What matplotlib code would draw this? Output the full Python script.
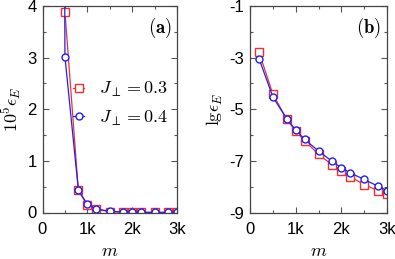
import numpy as np
import matplotlib
matplotlib.use("Agg")
import matplotlib.pyplot as plt
from matplotlib.ticker import MultipleLocator, FuncFormatter

plt.rcParams["mathtext.fontset"] = "cm"
plt.rcParams["font.family"] = ["Liberation Sans", "DejaVu Sans"]
plt.rcParams["axes.unicode_minus"] = False

m = [200, 500, 800, 1000, 1200, 1500, 1800, 2000, 2200, 2500, 2800, 3000]
# lg(epsilon_E)
lg_03 = [-2.8, -4.41, -5.37, -5.85, -6.22, -6.75, -7.15, -7.4, -7.62, -7.92, -8.15, -8.3]
lg_04 = [-3.05, -4.52, -5.36, -5.8, -6.17, -6.62, -7.02, -7.27, -7.47, -7.72, -7.98, -8.15]
labels = [r"$J_{\perp}=0.3$", r"$J_{\perp}=0.4$"]
yticks_b = [-9, -7, -5, -3, -1]

red = "#f03030"
blue = "#2020f0"

fig = plt.figure(figsize=(3.95, 2.59), dpi=100)
ax1 = fig.add_axes([42.5 / 395, 1 - 212.5 / 259, (177 - 42.5) / 395, (212.5 - 6) / 259])
ax2 = fig.add_axes([250 / 395, 1 - 212.5 / 259, (387 - 250) / 395, (212.5 - 6) / 259])

kfmt = FuncFormatter(lambda v, p: "0" if v == 0 else "%dk" % round(v / 1000))

series = [(lg_03, red, "s", 5.2), (lg_04, blue, "o", 5.0)]
for (lg, c, mk, ms), lab in zip(series, labels):
    lin = 10 ** (np.array(lg) + 5)
    ax1.plot(m, lin, color=c, lw=0.9, marker=mk, ms=ms, mfc="white",
             mec=c, mew=1.0, label=lab)
    ax2.plot(m, lg, color=c, lw=0.9, marker=mk, ms=ms, mfc="white",
             mec=c, mew=1.0)

ax1.set_xlim(0, 3000)
ax1.set_ylim(0, 4)
ax1.yaxis.set_major_locator(MultipleLocator(1))
ax1.yaxis.set_minor_locator(MultipleLocator(0.5))
ax1.set_ylabel(r"$10^5\epsilon_E$", fontsize=13, labelpad=3)
ax1.text(0.96, 0.95, r"$\mathbf{(a)}$", transform=ax1.transAxes,
         ha="right", va="top", fontsize=13.5)
ax1.legend(loc="upper left", bbox_to_anchor=(0.23, 0.64), frameon=False,
           fontsize=13, handlelength=0.6, handletextpad=0.8,
           labelspacing=0.5, borderaxespad=0.0, borderpad=0.0)

ax2.set_xlim(0, 3000)
ax2.set_ylim(-9, -1)
ax2.set_yticks(yticks_b)
ax2.yaxis.set_minor_locator(MultipleLocator(1))
ax2.set_ylabel(r"$\mathrm{lg}\epsilon_E$", fontsize=13, labelpad=3)
ax2.text(0.96, 0.95, r"$\mathbf{(b)}$", transform=ax2.transAxes,
         ha="right", va="top", fontsize=13.5)

for ax in (ax1, ax2):
    ax.xaxis.set_major_locator(MultipleLocator(1000))
    ax.xaxis.set_minor_locator(MultipleLocator(500))
    ax.xaxis.set_major_formatter(kfmt)
    ax.set_xlabel(r"$m$", fontsize=13, labelpad=4)
    ax.tick_params(which="both", direction="in", top=True, right=True,
                   labelsize=12, color="#555555", width=0.8)
    ax.tick_params(which="major", length=4, pad=4)
    ax.tick_params(axis="x", which="major", pad=7)
    ax.tick_params(which="minor", length=2.5)
    for s in ax.spines.values():
        s.set_color("#444444")
        s.set_linewidth(0.9)

fig.savefig("out.png", dpi=100)
